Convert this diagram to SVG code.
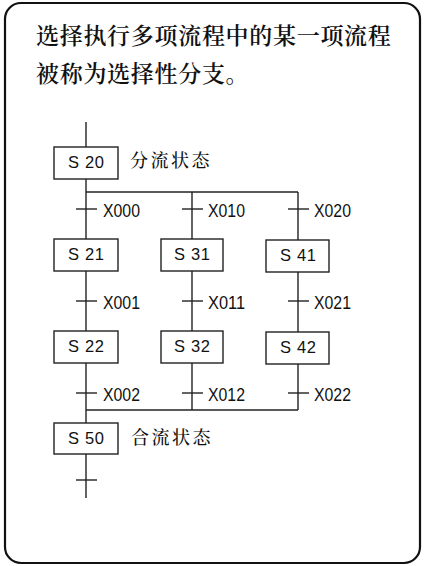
<svg xmlns="http://www.w3.org/2000/svg" width="424" height="566" viewBox="0 0 424 566">
<style>
.frame{fill:#fff;stroke:#111;stroke-width:2.2}
.ln{stroke:#222;stroke-width:1.4;fill:none}
.box{fill:#fff;stroke:#222;stroke-width:1.4}
.st{font-family:"Liberation Sans",Arial,sans-serif;font-size:16.5px;fill:#111}
.tr{font-family:"Liberation Sans",Arial,sans-serif;font-size:18px;fill:#111}
.cn{font-family:"Noto Serif CJK SC","Noto Sans CJK SC",serif;fill:#111}
.title{font-size:23px;letter-spacing:0.7px;font-weight:600}
.note{font-size:18px;letter-spacing:2.5px;font-weight:500}
</style>
<rect class="frame" x="5" y="3" width="415" height="560" rx="16" ry="16"/>
<g id="title">
<text class="cn title" x="36" y="44">选择执行多项流程中的某一项流程</text>
<text class="cn title" x="36" y="82">被称为选择性分支。</text>
</g>
<g id="connectors">
<line class="ln" x1="86" y1="122" x2="86" y2="147"/>
<line class="ln" x1="86" y1="179" x2="86" y2="239"/>
<line class="ln" x1="86" y1="192" x2="298" y2="192"/>
<line class="ln" x1="192" y1="192" x2="192" y2="239"/>
<line class="ln" x1="298" y1="192" x2="298" y2="240"/>
<line class="ln" x1="86" y1="271" x2="86" y2="331"/>
<line class="ln" x1="192" y1="271" x2="192" y2="331"/>
<line class="ln" x1="298" y1="272" x2="298" y2="332"/>
<line class="ln" x1="86" y1="363" x2="86" y2="423"/>
<line class="ln" x1="192" y1="363" x2="192" y2="410"/>
<line class="ln" x1="298" y1="364" x2="298" y2="410"/>
<line class="ln" x1="86" y1="410" x2="298" y2="410"/>
<line class="ln" x1="86" y1="454" x2="86" y2="498"/>
<line class="ln" x1="76" y1="209" x2="97" y2="209"/>
<line class="ln" x1="182" y1="209" x2="203" y2="209"/>
<line class="ln" x1="288" y1="209" x2="309" y2="209"/>
<line class="ln" x1="76" y1="301" x2="97" y2="301"/>
<line class="ln" x1="182" y1="301" x2="203" y2="301"/>
<line class="ln" x1="288" y1="301" x2="309" y2="301"/>
<line class="ln" x1="76" y1="393" x2="97" y2="393"/>
<line class="ln" x1="182" y1="393" x2="203" y2="393"/>
<line class="ln" x1="288" y1="393" x2="309" y2="393"/>
<line class="ln" x1="76" y1="480" x2="97" y2="480"/>
<text class="tr" x="103" y="217" textLength="37" lengthAdjust="spacingAndGlyphs">X000</text>
<text class="tr" x="208" y="217" textLength="37" lengthAdjust="spacingAndGlyphs">X010</text>
<text class="tr" x="314" y="217" textLength="37" lengthAdjust="spacingAndGlyphs">X020</text>
<text class="tr" x="103" y="309" textLength="37" lengthAdjust="spacingAndGlyphs">X001</text>
<text class="tr" x="208" y="309" textLength="37" lengthAdjust="spacingAndGlyphs">X011</text>
<text class="tr" x="314" y="309" textLength="37" lengthAdjust="spacingAndGlyphs">X021</text>
<text class="tr" x="103" y="401" textLength="37" lengthAdjust="spacingAndGlyphs">X002</text>
<text class="tr" x="208" y="401" textLength="37" lengthAdjust="spacingAndGlyphs">X012</text>
<text class="tr" x="314" y="401" textLength="37" lengthAdjust="spacingAndGlyphs">X022</text>
</g>
<g id="S20"><rect class="box" x="54" y="147" width="64" height="32"/><text class="st" x="68" y="168" textLength="36" lengthAdjust="spacing">S 20</text></g>
<text class="cn note" x="130" y="167">分流状态</text>
<g id="S21"><rect class="box" x="54" y="239" width="64" height="32"/><text class="st" x="68" y="260" textLength="36" lengthAdjust="spacing">S 21</text></g>
<g id="S31"><rect class="box" x="161" y="239" width="62" height="32"/><text class="st" x="174" y="260" textLength="36" lengthAdjust="spacing">S 31</text></g>
<g id="S41"><rect class="box" x="266" y="240" width="63" height="32"/><text class="st" x="280" y="261" textLength="36" lengthAdjust="spacing">S 41</text></g>
<g id="S22"><rect class="box" x="54" y="331" width="64" height="32"/><text class="st" x="68" y="352" textLength="36" lengthAdjust="spacing">S 22</text></g>
<g id="S32"><rect class="box" x="161" y="331" width="62" height="32"/><text class="st" x="174" y="352" textLength="36" lengthAdjust="spacing">S 32</text></g>
<g id="S42"><rect class="box" x="266" y="332" width="63" height="32"/><text class="st" x="280" y="353" textLength="36" lengthAdjust="spacing">S 42</text></g>
<g id="S50"><rect class="box" x="54" y="423" width="64" height="31"/><text class="st" x="68" y="444" textLength="36" lengthAdjust="spacing">S 50</text></g>
<text class="cn note" x="131" y="444">合流状态</text>
</svg>
